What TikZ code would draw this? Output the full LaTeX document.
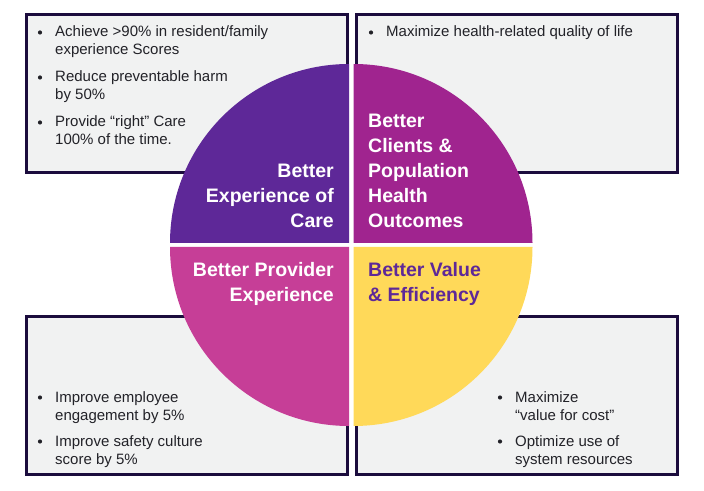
\documentclass[tikz,border=0pt]{standalone}
\usepackage{fontspec}
\setmainfont{Liberation Sans}
\definecolor{careP}{RGB}{94,40,152}
\definecolor{clientM}{RGB}{160,36,143}
\definecolor{provP}{RGB}{198,62,151}
\definecolor{valueY}{RGB}{255,217,89}
\definecolor{boxfill}{RGB}{241,242,242}
\definecolor{boxline}{RGB}{27,12,61}
\definecolor{goaltext}{RGB}{34,34,40}
\tikzset{
  goalbox/.style={draw=boxline, line width=3pt, fill=boxfill},
  goal/.style={anchor=base west, inner sep=0pt, align=left, text=goaltext,
    font=\fontsize{15}{18}\selectfont},
  dot/.style={circle, fill=goaltext, inner sep=0pt, minimum size=4.2pt},
  aimL/.style={anchor=base east, inner sep=0pt, align=right, text=white,
    font=\fontsize{19.5}{25}\selectfont\bfseries},
  aimR/.style={aimL, anchor=base west, align=left}
}
\begin{document}
\begin{tikzpicture}[x=1pt, y=1pt]
  \useasboundingbox (0,0) rectangle (704,490);

  % goal boxes
  \foreach \x/\y in {26.5/317.5, 356.5/317.5, 26.5/15.5, 356.5/15.5}
  {
    \draw[goalbox] (\x,\y) rectangle ++(321,158);
  }

  % the four quarters
  \foreach \cx/\cy/\a/\c in {349/247/90/careP, 353.5/247/0/clientM,
                             349/243/180/provP, 353.5/243/270/valueY}
  {
    \fill[\c] (\cx,\cy) -- ++(\a:179) arc (\a:\a+90:179) -- cycle;
  }

  % node base = last line
  \node[aimL] (care) at (334,262) {Better\\Experience of\\Care};
  \node[aimR] (health) at (368,262) {Better\\Clients \&\\Population\\Health\\Outcomes};
  \node[aimL] (staff) at (334,188) {Better Provider\\Experience};
  \node[aimR, text=careP] (value) at (368,188) {Better Value\\\& Efficiency};

  \node[goal] (care1) at (55,435) {Achieve >90\% in resident/family\\experience Scores};
  \node[goal] (care2) at (55,390) {Reduce preventable harm\\by 50\%};
  \node[goal] (care3) at (55,345) {Provide “right” Care\\100\% of the time.};
  \node[goal] (health1) at (386,453) {Maximize health-related quality of life};
  \node[goal] (staff1) at (55,70) {Improve employee\\engagement by 5\%};
  \node[goal] (staff2) at (55,26) {Improve safety culture\\score by 5\%};
  \node[goal] (value1) at (515,70) {Maximize\\“value for cost”};
  \node[goal] (value2) at (515,26) {Optimize use of\\system resources};

  \foreach \n/\k in {care1/1, care2/1, care3/1, health1/0,
                     staff1/1, staff2/1, value1/1, value2/1}
  {
    \node[dot] (\n-dot) at ([xshift=-15pt, yshift=\k*18pt+4.5pt]\n.base west) {};
  }
\end{tikzpicture}
\end{document}
